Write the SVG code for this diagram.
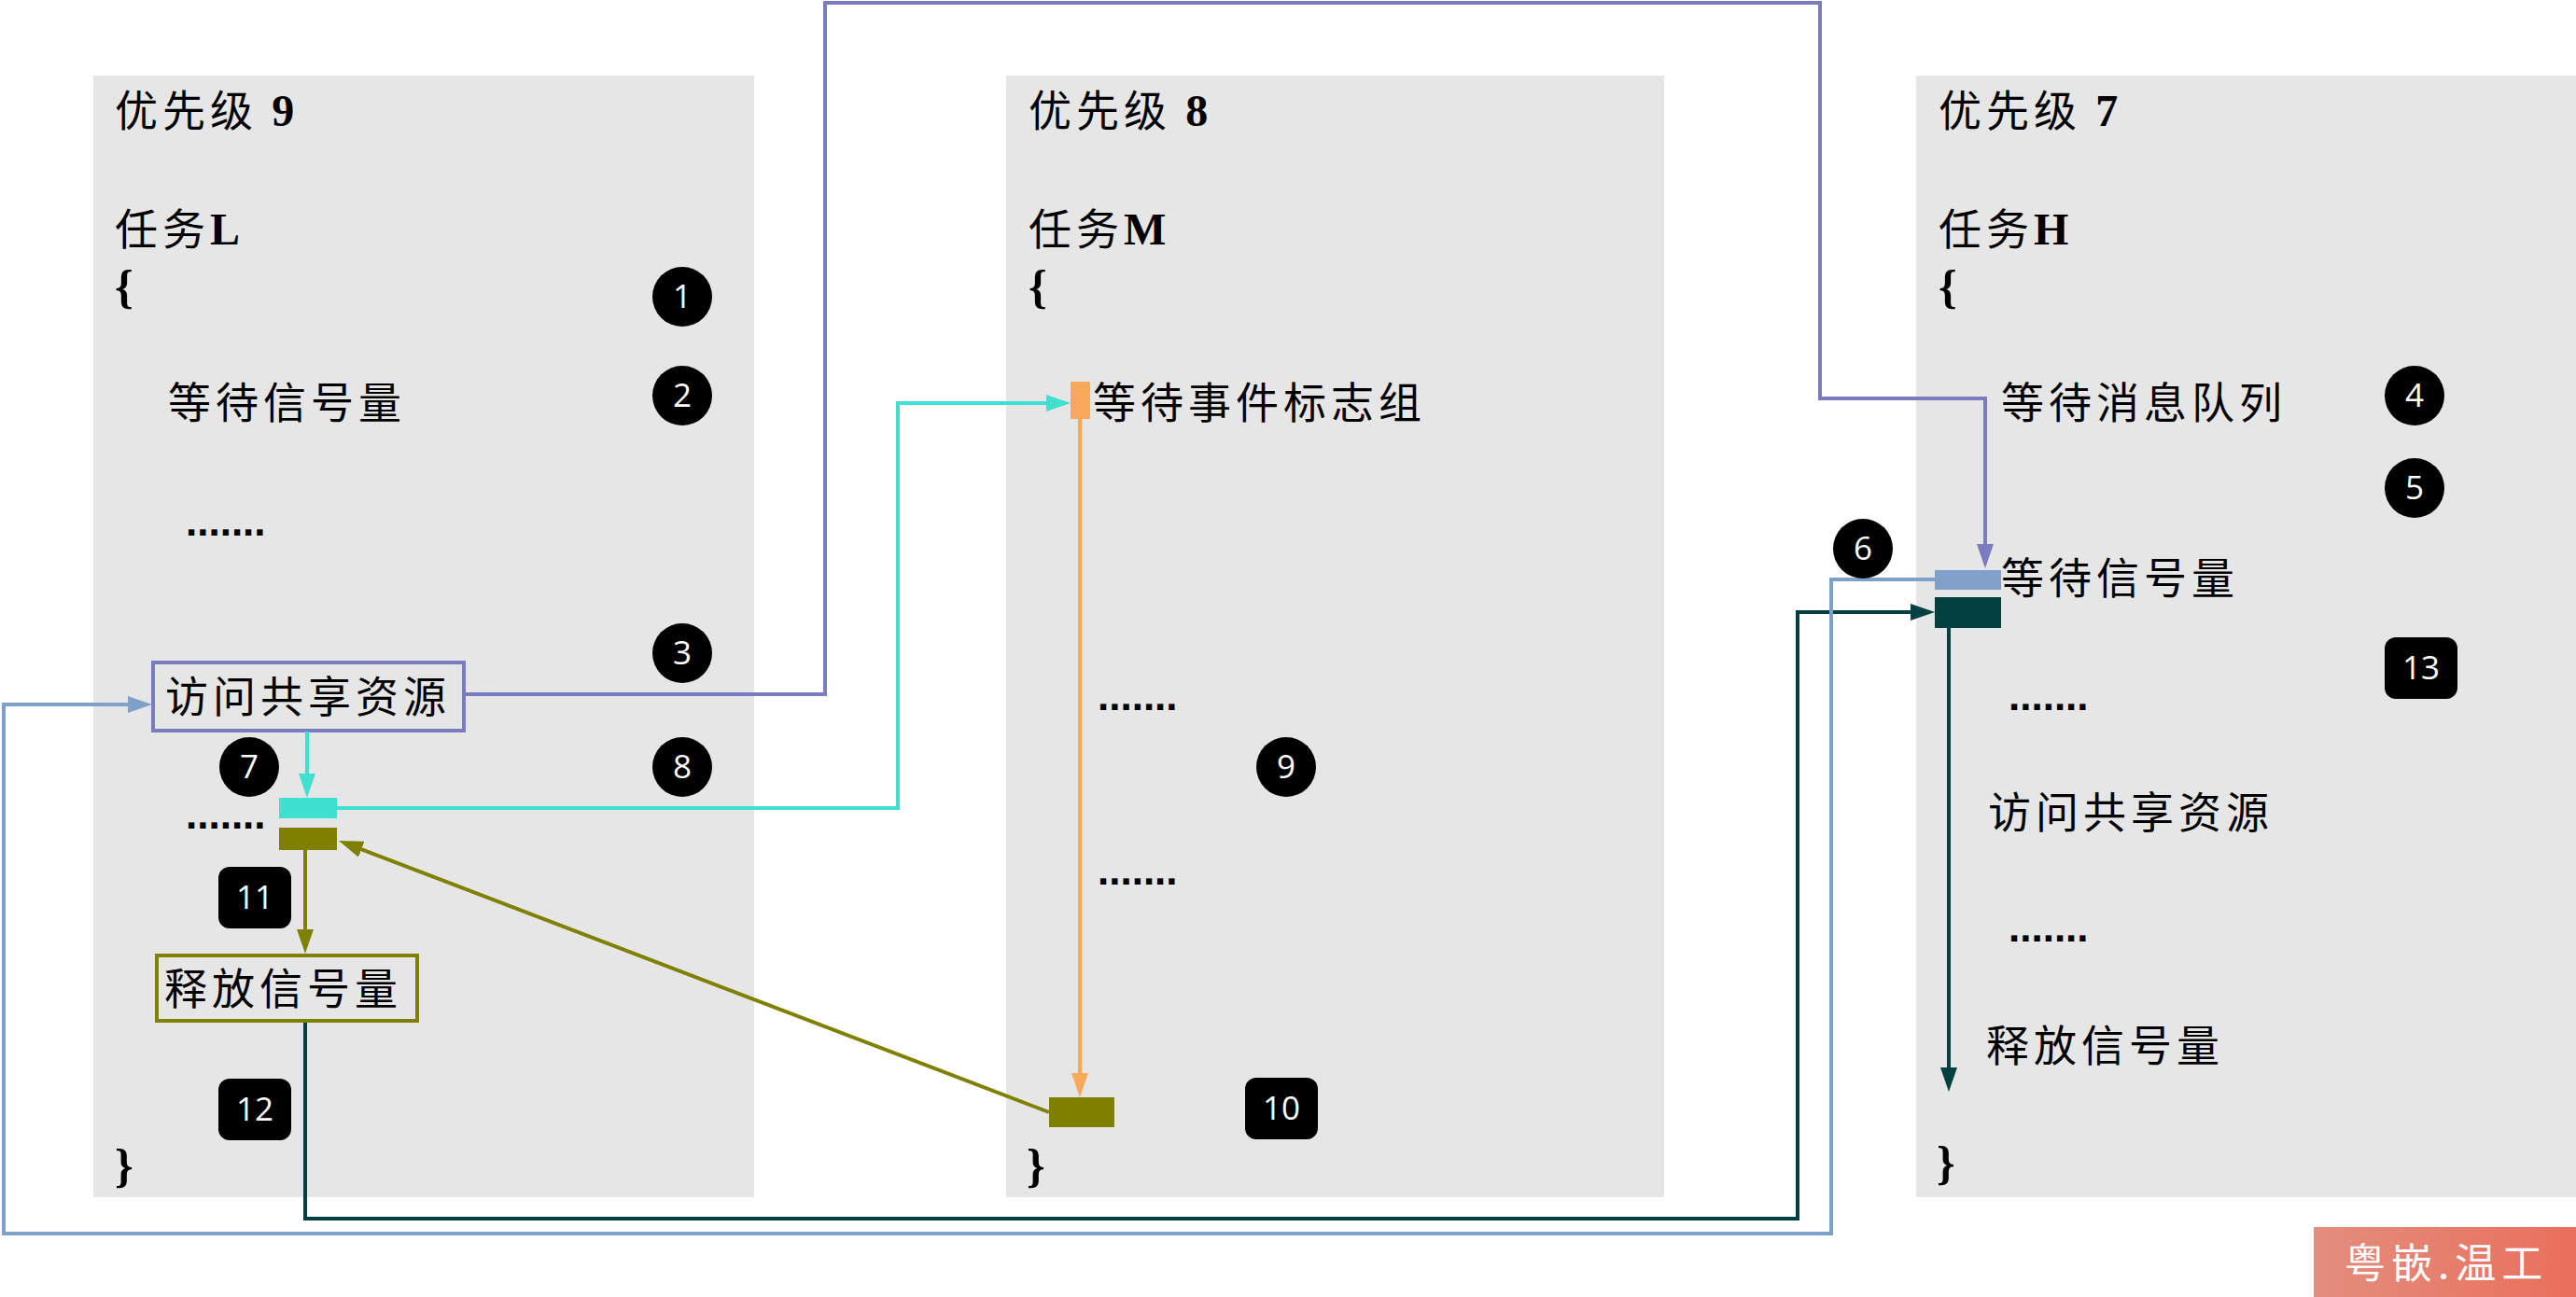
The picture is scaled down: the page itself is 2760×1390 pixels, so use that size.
<svg xmlns="http://www.w3.org/2000/svg" width="2760" height="1390" viewBox="0 0 2760 1390">
<style>
.panel{fill:#e6e6e6}
.cn{font-family:"Noto Sans CJK SC","Noto Sans CJK JP",sans-serif;font-size:46px;letter-spacing:5px;fill:#000}
.ttl{font-family:"Noto Sans CJK SC",sans-serif;font-size:46px;letter-spacing:5px;fill:#000}
.lat{font-family:"Liberation Serif",serif;font-weight:bold;font-size:48px}
.brace{font-family:"Liberation Serif",serif;font-size:50px;font-weight:bold;fill:#000}
.dots{font-family:"Liberation Sans",sans-serif;font-weight:bold;font-size:44px;fill:#000}
.badge{fill:#000}
.num{font-family:"Open Sans","Liberation Sans",sans-serif;font-size:35px;fill:#fff;text-anchor:middle}
.ln{fill:none;stroke-width:4;stroke-linejoin:miter}
</style>
<defs>
<marker id="aP" markerUnits="userSpaceOnUse" markerWidth="26" markerHeight="18" refX="20" refY="9" orient="auto"><path d="M0,0L26,9L0,18Z" fill="#7b7bc0"/></marker>
<marker id="aC" markerUnits="userSpaceOnUse" markerWidth="26" markerHeight="18" refX="20" refY="9" orient="auto"><path d="M0,0L26,9L0,18Z" fill="#40e0d0"/></marker>
<marker id="aO" markerUnits="userSpaceOnUse" markerWidth="26" markerHeight="18" refX="20" refY="9" orient="auto"><path d="M0,0L26,9L0,18Z" fill="#f8aa5a"/></marker>
<marker id="aG" markerUnits="userSpaceOnUse" markerWidth="26" markerHeight="18" refX="20" refY="9" orient="auto"><path d="M0,0L26,9L0,18Z" fill="#808000"/></marker>
<marker id="aD" markerUnits="userSpaceOnUse" markerWidth="26" markerHeight="18" refX="20" refY="9" orient="auto"><path d="M0,0L26,9L0,18Z" fill="#004040"/></marker>
<marker id="aB" markerUnits="userSpaceOnUse" markerWidth="26" markerHeight="18" refX="20" refY="9" orient="auto"><path d="M0,0L26,9L0,18Z" fill="#7fa0c8"/></marker>
<linearGradient id="wm" x1="0" y1="0" x2="1" y2="0"><stop offset="0" stop-color="#e38e7e"/><stop offset="1" stop-color="#ea6f5c"/></linearGradient>
</defs>
<rect width="2760" height="1390" fill="#fff"/>

<g id="panel-L">
<rect class="panel" x="100" y="81" width="708" height="1202"/>
<text class="ttl" x="123" y="135">优先级 <tspan class="lat">9</tspan></text>
<text class="ttl" x="123" y="262">任务<tspan class="lat">L</tspan></text>
<text class="brace" x="123" y="324">{</text>
<text class="cn" x="180" y="448">等待信号量</text>
<text class="dots" x="199" y="574">.......</text>
<text class="dots" x="199" y="888">.......</text>
<text class="brace" x="123" y="1266">}</text>
</g>

<g id="panel-M">
<rect class="panel" x="1078" y="81" width="705" height="1202"/>
<text class="ttl" x="1102" y="135">优先级 <tspan class="lat">8</tspan></text>
<text class="ttl" x="1102" y="262">任务<tspan class="lat">M</tspan></text>
<text class="brace" x="1102" y="324">{</text>
<text class="cn" x="1171" y="448">等待事件标志组</text>
<text class="dots" x="1176" y="761">.......</text>
<text class="dots" x="1176" y="948">.......</text>
<text class="brace" x="1100" y="1266">}</text>
</g>

<g id="panel-H">
<rect class="panel" x="2053" y="81" width="707" height="1202"/>
<text class="ttl" x="2077" y="135">优先级 <tspan class="lat">7</tspan></text>
<text class="ttl" x="2077" y="262">任务<tspan class="lat">H</tspan></text>
<text class="brace" x="2077" y="324">{</text>
<text class="cn" x="2144" y="448">等待消息队列</text>
<text class="cn" x="2144" y="636">等待信号量</text>
<text class="dots" x="2152" y="761">.......</text>
<text class="cn" x="2130" y="887">访问共享资源</text>
<text class="dots" x="2152" y="1009">.......</text>
<text class="cn" x="2128" y="1137">释放信号量</text>
<text class="brace" x="2075" y="1263">}</text>
</g>

<g id="node-access-L">
<rect x="164" y="710" width="333" height="73" fill="none" stroke="#7b7bc0" stroke-width="4"/>
<text class="cn" x="177" y="763">访问共享资源</text>
</g>
<g id="node-release-L">
<rect x="168" y="1024" width="279" height="70" fill="none" stroke="#808000" stroke-width="4"/>
<text class="cn" x="176" y="1076">释放信号量</text>
</g>

<g id="node-cyan-L"><rect x="299" y="855" width="62" height="22" fill="#40e0d0"/></g>
<g id="node-olive-L"><rect x="299" y="887" width="62" height="24" fill="#808000"/></g>
<g id="node-orange-M"><rect x="1147" y="409" width="21" height="40" fill="#f8aa5a"/></g>
<g id="node-olive-M"><rect x="1124" y="1176" width="70" height="32" fill="#808000"/></g>
<g id="node-blue-H"><rect x="2073" y="611" width="71" height="21" fill="#7fa0c8"/></g>
<g id="node-dark-H"><rect x="2073" y="640" width="71" height="33" fill="#004040"/></g>

<g id="connectors">
<path class="ln" stroke="#7b7bc0" d="M497,744H884V3H1950V427H2127V603" marker-end="url(#aP)"/>
<path class="ln" stroke="#40e0d0" d="M329,784V849" marker-end="url(#aC)"/>
<path class="ln" stroke="#40e0d0" d="M361,866H962V432H1141" marker-end="url(#aC)"/>
<path class="ln" stroke="#f8aa5a" d="M1157,449V1170" marker-end="url(#aO)"/>
<path class="ln" stroke="#808000" stroke-width="5" d="M1124,1192L368.6,903.1" marker-end="url(#aG)"/>
<path class="ln" stroke="#808000" d="M327,911V1016" marker-end="url(#aG)"/>
<path class="ln" stroke="#004040" stroke-width="5" d="M327,1096V1306H1926V656H2067" marker-end="url(#aD)"/>
<path class="ln" stroke="#004040" d="M2088,673V1164" marker-end="url(#aD)"/>
<path class="ln" stroke="#7fa0c8" d="M2073,621H1962V1322H4V755H157" marker-end="url(#aB)"/>
</g>

<g id="badges">
<g id="b1"><circle class="badge" cx="731" cy="318" r="32"/><text class="num" x="731" y="330">1</text></g>
<g id="b2"><circle class="badge" cx="731" cy="424" r="32"/><text class="num" x="731" y="436">2</text></g>
<g id="b3"><circle class="badge" cx="731" cy="700" r="32"/><text class="num" x="731" y="712">3</text></g>
<g id="b4"><circle class="badge" cx="2587" cy="424" r="32"/><text class="num" x="2587" y="436">4</text></g>
<g id="b5"><circle class="badge" cx="2587" cy="523" r="32"/><text class="num" x="2587" y="535">5</text></g>
<g id="b6"><circle class="badge" cx="1996" cy="588" r="32"/><text class="num" x="1996" y="600">6</text></g>
<g id="b7"><circle class="badge" cx="267" cy="822" r="32"/><text class="num" x="267" y="834">7</text></g>
<g id="b8"><circle class="badge" cx="731" cy="822" r="32"/><text class="num" x="731" y="834">8</text></g>
<g id="b9"><circle class="badge" cx="1378" cy="822" r="32"/><text class="num" x="1378" y="834">9</text></g>
<g id="b10"><rect class="badge" x="1334" y="1155" width="78" height="66" rx="12"/><text class="num" x="1373" y="1200">10</text></g>
<g id="b11"><rect class="badge" x="234" y="929" width="78" height="66" rx="12"/><text class="num" x="273" y="974">11</text></g>
<g id="b12"><rect class="badge" x="234" y="1156" width="78" height="66" rx="12"/><text class="num" x="273" y="1201">12</text></g>
<g id="b13"><rect class="badge" x="2555" y="683" width="78" height="66" rx="12"/><text class="num" x="2594" y="728">13</text></g>
</g>

<g id="watermark">
<rect x="2479" y="1315" width="281" height="75" fill="url(#wm)"/>
<text x="2512" y="1370" font-family="Noto Sans CJK SC, sans-serif" font-size="44" letter-spacing="6" fill="#fff">粤嵌.温工</text>
</g>
</svg>
